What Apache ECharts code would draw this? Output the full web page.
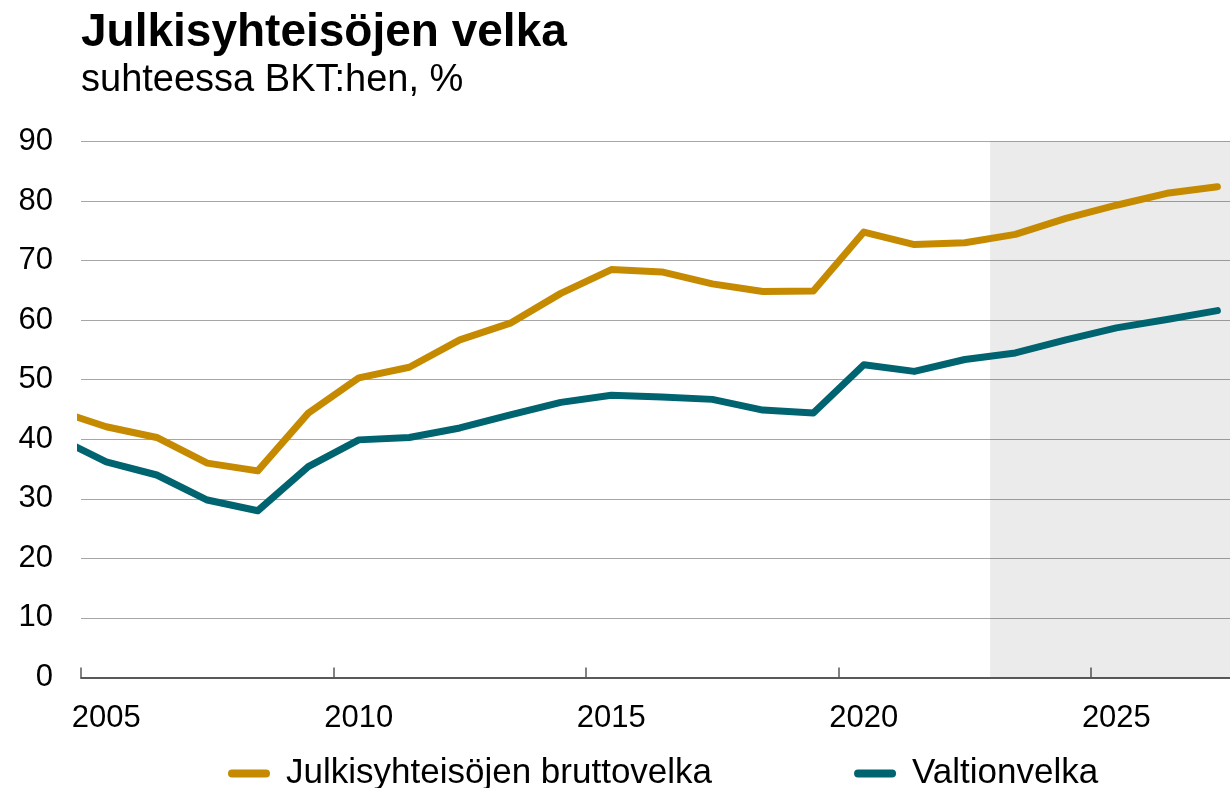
<!DOCTYPE html>
<html>
<head>
<meta charset="utf-8">
<script src="https://cdn.jsdelivr.net/npm/echarts@6/dist/echarts.min.js"></script>
<style>
  html, body { margin: 0; padding: 0; background: #fff; }
  #chart { width: 1230px; height: 788px; }
</style>
</head>
<body>
<div id="chart"></div>
<script>
// vuodet 2004–2027, piste piirretään vuoden keskelle
const years = [2004, 2005, 2006, 2007, 2008, 2009, 2010, 2011, 2012, 2013, 2014, 2015,
  2016, 2017, 2018, 2019, 2020, 2021, 2022, 2023, 2024, 2025, 2026, 2027];
// prettier-ignore
const bruttovelka = [44.9, 42.1, 40.3, 36.0, 34.7, 44.4, 50.3, 52.1, 56.7, 59.5, 64.5, 68.5,
  68.1, 66.1, 64.8, 64.9, 74.8, 72.7, 73.0, 74.4, 77.1, 79.3, 81.3, 82.4];
// prettier-ignore
const valtionvelka = [40.4, 36.2, 34.0, 29.8, 28.0, 35.4, 39.9, 40.3, 41.9, 44.1, 46.2, 47.4,
  47.1, 46.7, 44.9, 44.4, 52.5, 51.4, 53.4, 54.5, 56.7, 58.7, 60.1, 61.6];
const tickYears = [2005, 2010, 2015, 2020, 2025];
const forecastStart = 2023;

const font = "'Liberation Sans', Arial, sans-serif";
const toPoints = (vals) => years.map((y, i) => [y + 0.5, vals[i]]);

const chart = echarts.init(document.getElementById("chart"));
const option = {
  animation: false,
  title: {
    text: "Julkisyhteisöjen velka",
    subtext: "suhteessa BKT:hen, %",
    left: 76,
    top: 2,
    itemGap: 0,
    textStyle: { fontFamily: font, fontSize: 46, fontWeight: "bold", color: "#000", lineHeight: 52 },
    subtextStyle: { fontFamily: font, fontSize: 38, color: "#000", lineHeight: 44, padding: [0, 0, 0, 5] },
  },
  legend: {
    left: 223,
    top: 751,
    itemGap: 142,
    itemWidth: 42,
    itemHeight: 8,
    icon: "path://M4,0 L38,0 A4,4 0 0 1 38,8 L4,8 A4,4 0 0 1 4,0 Z",
    textStyle: { fontFamily: font, fontSize: 35, color: "#000", padding: [0, 0, 0, 11] },
    data: ["Julkisyhteisöjen bruttovelka", "Valtionvelka"],
  },
  grid: { left: 81, right: 0, top: 141.5, bottom: 110.5 },
  xAxis: {
    type: "value",
    min: 2005,
    max: 2027.75,
    splitLine: { show: false },
    axisLine: { lineStyle: { color: "#595959", width: 2 } },
    axisTick: {
      customValues: tickYears,
      inside: true,
      length: 10,
      lineStyle: { color: "#595959", width: 1.5 },
    },
    axisLabel: {
      customValues: tickYears.map((y) => y + 0.5),
      formatter: (v) => String(Math.floor(v)),
      fontFamily: font,
      fontSize: 31,
      color: "#000",
      margin: 25,
    },
  },
  yAxis: {
    type: "value",
    min: 0,
    max: 90,
    interval: 10,
    axisLine: { show: false },
    axisTick: { show: false },
    splitLine: { lineStyle: { color: "#a6a6a6", width: 1.2 } },
    axisLabel: { fontFamily: font, fontSize: 31, color: "#000", margin: 28 },
  },
  series: [
    {
      name: "Julkisyhteisöjen bruttovelka",
      type: "line",
      data: toPoints(bruttovelka),
      showSymbol: false,
      symbol: "none",
      color: "#c68a00",
      lineStyle: { width: 7, cap: "round", join: "round" },
      markArea: {
        silent: true,
        itemStyle: { color: "rgba(0,0,0,0.08)" },
        data: [[{ xAxis: forecastStart }, { xAxis: 2027.75 }]],
      },
    },
    {
      name: "Valtionvelka",
      type: "line",
      data: toPoints(valtionvelka),
      showSymbol: false,
      symbol: "none",
      color: "#006470",
      lineStyle: { width: 7, cap: "round", join: "round" },
    },
  ],
};
chart.setOption(option);
</script>
</body>
</html>
